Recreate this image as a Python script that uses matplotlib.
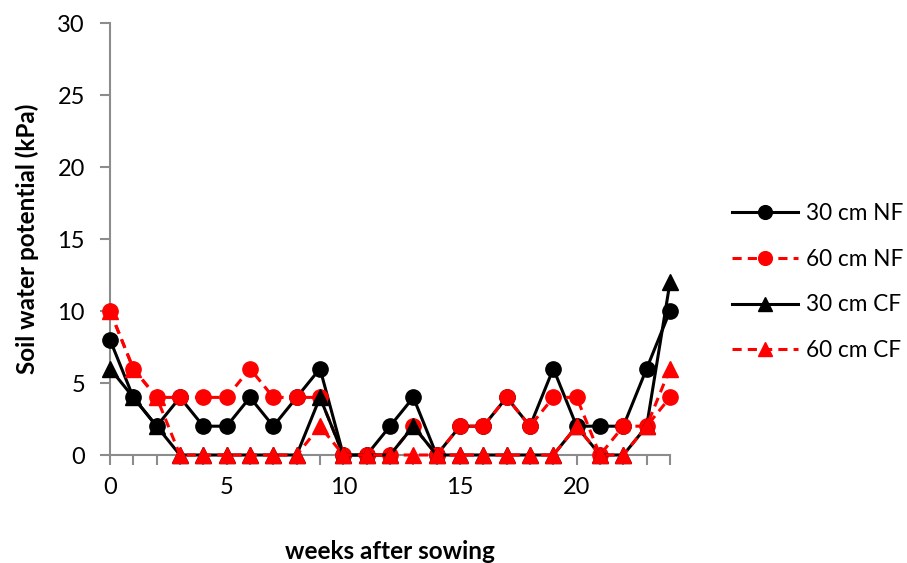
import matplotlib
matplotlib.use("Agg")
import matplotlib.pyplot as plt

weeks = list(range(25))
nf_30 = [8, 4, 2, 4, 2, 2, 4, 2, 4, 6, 0, 0, 2, 4, 0, 2, 2, 4, 2, 6, 2, 2, 2, 6, 10]
nf_60 = [10, 6, 4, 4, 4, 4, 6, 4, 4, 4, 0, 0, 0, 2, 0, 2, 2, 4, 2, 4, 4, 0, 2, 2, 4]
cf_30 = [6, 4, 2, 0, 0, 0, 0, 0, 0, 4, 0, 0, 0, 2, 0, 0, 0, 0, 0, 0, 2, 0, 0, 2, 12]
cf_60 = [10, 6, 4, 0, 0, 0, 0, 0, 0, 2, 0, 0, 0, 0, 0, 0, 0, 0, 0, 0, 2, 0, 0, 2, 6]

x_ticks = [0, 5, 10, 15, 20]
y_ticks = [0, 5, 10, 15, 20, 25, 30]

plt.rcParams['font.family'] = ['Lato', 'DejaVu Sans']

fig = plt.figure(figsize=(9.07, 5.63), dpi=100)
ax = fig.add_axes([110 / 907, 1 - 455 / 563, 560 / 907, 432 / 563])

ms = 11
lw = 2.2
ax.plot(weeks, nf_30, color='black', lw=lw, marker='o', ms=ms, label='30 cm NF', zorder=3)
ax.plot(weeks, nf_60, color='#ff0000', lw=lw, ls=(0, (3, 2)), marker='o', ms=ms,
        label='60 cm NF', zorder=4)
ax.plot(weeks, cf_30, color='black', lw=lw, marker='^', ms=ms, label='30 cm CF', zorder=5)
ax.plot(weeks, cf_60, color='#ff0000', lw=lw, ls=(0, (3, 2)), marker='^', ms=ms,
        label='60 cm CF', zorder=6)

ax.set_xlim(0, 24)
ax.set_ylim(0, 30)
ax.set_xticks(x_ticks)
ax.set_xticks(range(25), minor=True)
ax.set_yticks(y_ticks)
for s in ['top', 'right']:
    ax.spines[s].set_visible(False)
for s in ['left', 'bottom']:
    ax.spines[s].set_color('#8c8c8c')
    ax.spines[s].set_linewidth(1.5)
ax.tick_params(axis='both', which='both', color='#8c8c8c', width=1.5, length=7,
               direction='out', labelsize=17)
ax.tick_params(axis='x', which='both', pad=9)
ax.tick_params(axis='y', pad=11)
for sp in ax.spines.values():
    sp.set_clip_on(False)
for line in ax.get_lines():
    line.set_clip_on(False)

ax.set_xlabel('weeks after sowing', fontsize=17.5, fontweight='bold', labelpad=30)
ax.set_ylabel('Soil water potential (kPa)', fontsize=17.5, fontweight='bold', labelpad=13)

leg = fig.legend(loc='center left', bbox_to_anchor=(712 / 907, 1 - 282 / 563),
                 frameon=False, fontsize=16.3, handlelength=2.9, labelspacing=1.1,
                 handletextpad=0.35, borderpad=0.4, borderaxespad=0.5, markerscale=0.9)

fig.savefig('out.png', dpi=100)
